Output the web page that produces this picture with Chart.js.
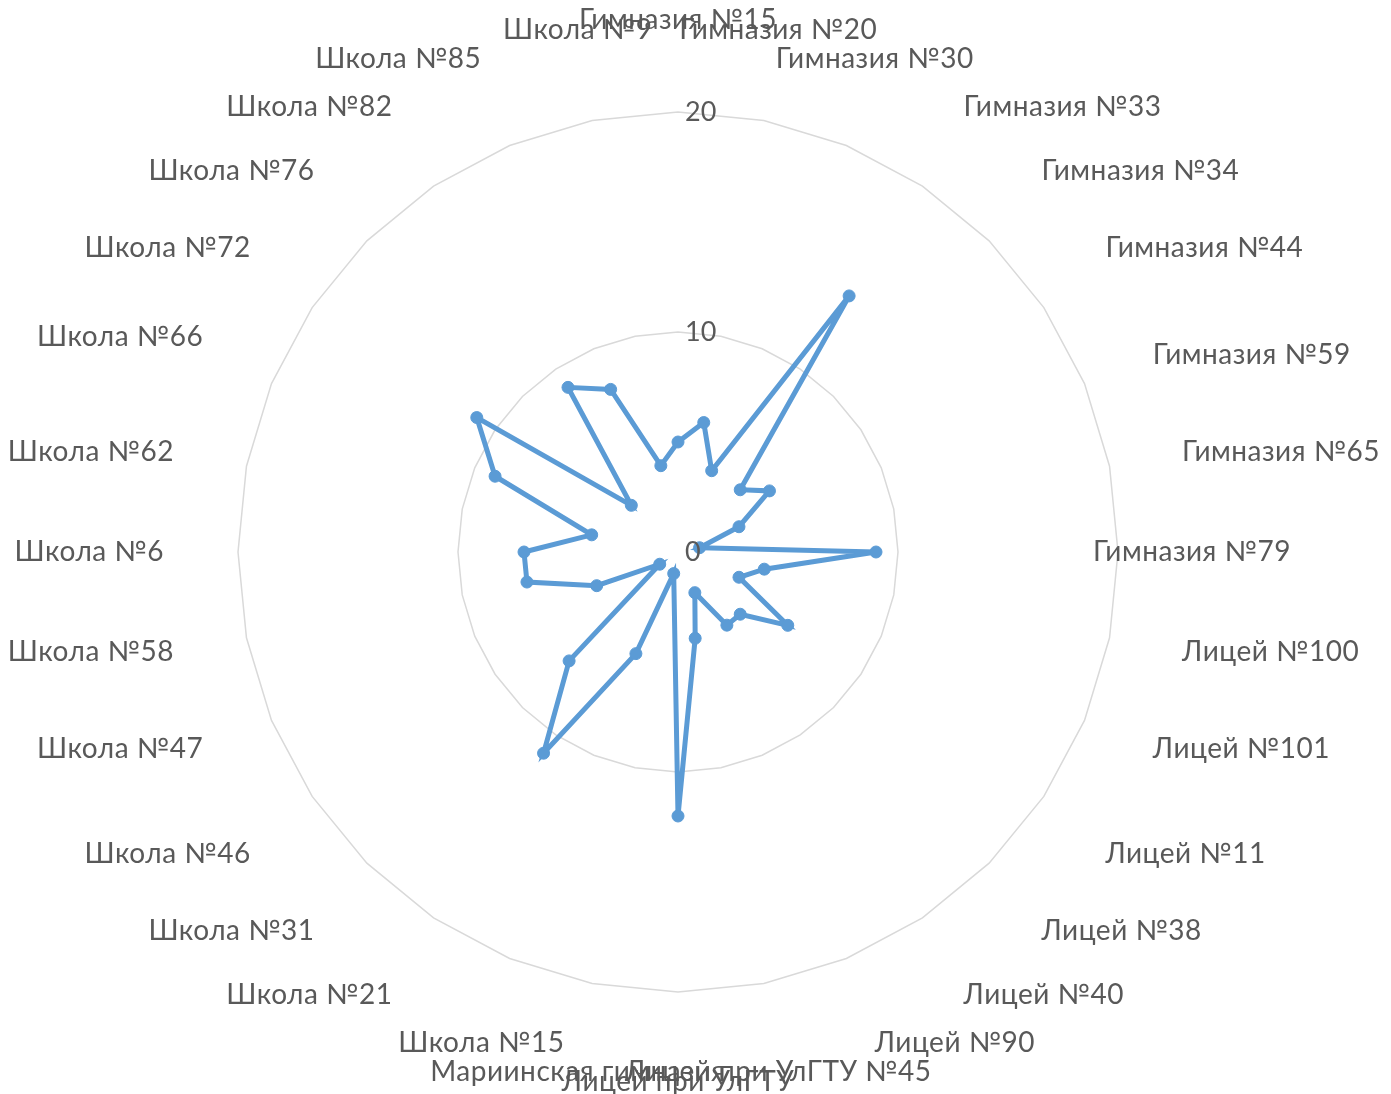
<!DOCTYPE html>
<html>
<head>
<meta charset="utf-8">
<script src="https://cdn.jsdelivr.net/npm/chart.js@4/dist/chart.umd.min.js"></script>
<style>
  html, body { margin: 0; padding: 0; background: #fff; }
  #wrap { width: 1391px; height: 1094px; position: relative; }
</style>
</head>
<body>
<div id="wrap"><canvas id="myChart"></canvas></div>
<script>
var schools = [
  "Гимназия №15", "Гимназия №20", "Гимназия №30", "Гимназия №33",
  "Гимназия №34", "Гимназия №44", "Гимназия №59", "Гимназия №65",
  "Гимназия №79", "Лицей №100", "Лицей №101", "Лицей №11",
  "Лицей №38", "Лицей №40", "Лицей №90", "Лицей при УлГТУ №45",
  "Лицей при УлГТУ", "Мариинская гимназия", "Школа №15", "Школа №21",
  "Школа №31", "Школа №46", "Школа №47", "Школа №58",
  "Школа №6", "Школа №62", "Школа №66", "Школа №72",
  "Школа №76", "Школа №82", "Школа №85", "Школа №9"
];
var values = [5, 6, 4, 14, 4, 5, 3, 1, 9, 4, 3, 6, 4, 4, 2, 4,
              12, 1, 5, 11, 7, 1, 4, 7, 7, 4, 9, 11, 3, 9, 8, 4];
var axisMin = 0, axisMax = 20, axisStep = 10;

// labels drawn Excel-style (centred near top/bottom, hugging the ring elsewhere)
var excelLabels = {
  id: "excelLabels",
  afterDatasetsDraw: function (chart) {
    var scale = chart.scales.r;
    var ctx = chart.ctx;
    var n = schools.length;
    ctx.save();
    ctx.fillStyle = "#595959";
    ctx.textBaseline = "alphabetic";
    ctx.font = "28px Lato";
    ctx.letterSpacing = "0.5px";
    for (var i = 0; i < n; i++) {
      var deg = i * 360 / n;
      var p = scale.getPointPosition(i, scale.drawingArea + 74);
      var align;
      if (deg === 90 || (deg + 15) % 180 < 45) align = "center";
      else align = deg < 180 ? "left" : "right";
      var dy;
      if (deg < 60 || deg >= 290) dy = -9;
      else if (deg < 120 || (deg >= 240 && deg < 290)) dy = 9;
      else dy = 25;
      ctx.textAlign = align;
      ctx.fillText(schools[i], p.x, p.y + dy);
    }
    // value ticks, including 0 which chart.js skips
    ctx.letterSpacing = "0px";
    ctx.textAlign = "left";
    ctx.textBaseline = "middle";
    ctx.font = "27px Lato";
    scale.ticks.forEach(function (t) {
      var d = scale.getDistanceFromCenterForValue(t.value);
      ctx.fillText(t.label, scale.xCenter + 7, scale.yCenter - d);
    });
    ctx.restore();
  }
};

var ctx = document.getElementById("myChart").getContext("2d");
var myChart = new Chart(ctx, {
  type: "radar",
  data: {
    labels: schools,
    datasets: [{
      data: values,
      borderColor: "#5B9BD5",
      backgroundColor: "#5B9BD5",
      pointBackgroundColor: "#5B9BD5",
      pointBorderColor: "#5B9BD5",
      borderWidth: 5,
      pointRadius: 6,
      pointBorderWidth: 1,
      fill: false,
      tension: 0
    }]
  },
  options: {
    responsive: true,
    maintainAspectRatio: false,
    animation: false,
    layout: { padding: { left: 238, right: 273, top: 112, bottom: 102 } },
    plugins: { legend: { display: false }, tooltip: { enabled: false } },
    scales: {
      r: {
        min: axisMin,
        max: axisMax,
        ticks: { stepSize: axisStep, display: false },
        angleLines: { display: false },
        grid: { color: "#D9D9D9", lineWidth: 1.5 },
        pointLabels: { display: false }
      }
    }
  },
  plugins: [excelLabels]
});
</script>
</body>
</html>
